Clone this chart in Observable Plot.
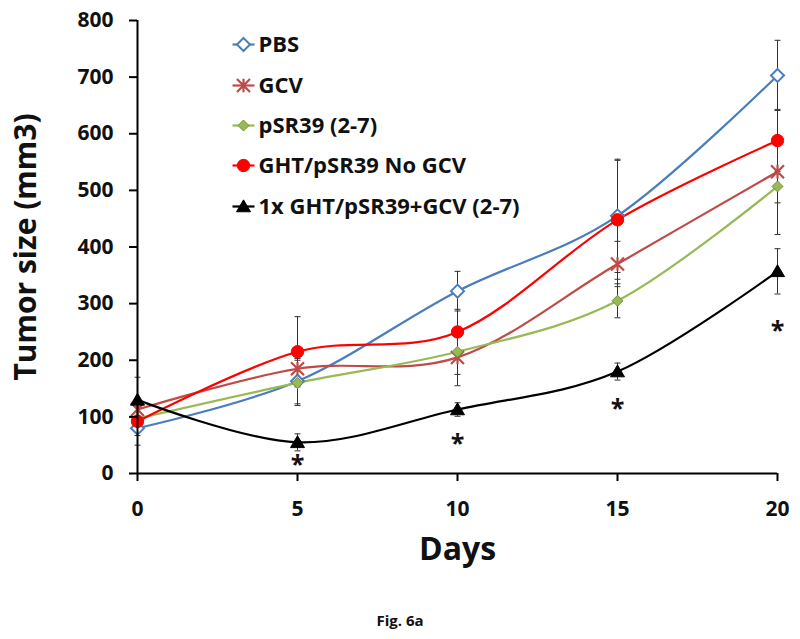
<!DOCTYPE html>
<html>
<head>
<meta charset="utf-8">
<script src="https://cdn.jsdelivr.net/npm/d3@7"></script>
<script src="https://cdn.jsdelivr.net/npm/@observablehq/plot@0.6"></script>
<style>
  body { margin: 0; background: #fff; font-family: "Open Sans", sans-serif; }
  #chart { width: 800px; height: 600px; }
  #caption { width: 800px; height: 39px; text-align: center; font: bold 15px "Open Sans", sans-serif; line-height: 40px; color: #111; }
</style>
</head>
<body>
<div id="chart"></div>
<div id="caption">Fig. 6a</div>
<script>
const days = [0, 5, 10, 15, 20];
const seriesNames = ["PBS", "GCV", "pSR39 (2-7)", "GHT/pSR39 No GCV", "1x GHT/pSR39+GCV (2-7)"];
const pbs   = [80, 163, 322, 455, 703];
const gcv   = [113, 185, 205, 370, 533];
const psr   = [97, 160, 215, 305, 507];
const ghtNo = [92, 215, 250, 448, 588];
const ghtG  = [130, 55, 113, 180, 357];
const pbsErr   = [30, 40, 35, 100, 62];
const gcvErr   = [20, 30, 50, 40, 55];
const psrErr   = [20, 40, 40, 30, 85];
const ghtNoErr = [25, 62, 40, 105, 55];
const ghtGErr  = [40, 15, 12, 15, 40];
const starDays = [5, 10, 15, 20];
const starVals = [25, 63, 125, 262];
const yTicks = [0, 100, 200, 300, 400, 500, 600, 700, 800];
const xTicks = [0, 5, 10, 15, 20];
const colors = ["#4A7EBB", "#BE4B48", "#98B954", "#FF0000", "#000000"];

const values = [pbs, gcv, psr, ghtNo, ghtG];
const errs = [pbsErr, gcvErr, psrErr, ghtNoErr, ghtGErr];

const rows = [];
seriesNames.forEach((s, i) => days.forEach((d, j) => rows.push({series: s, idx: i, day: d, v: values[i][j], e: errs[i][j]})));

const rad = size => Math.sqrt(size / Math.PI);
const hline = (len) => ({draw(ctx, size) { ctx.moveTo(-len / 2, 0); ctx.lineTo(len / 2, 0); }});
const sqDiamond = {draw(ctx, size) { const r = rad(size); ctx.moveTo(0, -r); ctx.lineTo(r, 0); ctx.lineTo(0, r); ctx.lineTo(-r, 0); ctx.closePath(); }};
const tri = {draw(ctx, size) { const r = rad(size); ctx.moveTo(0, -r * 0.95); ctx.lineTo(r, r * 0.75); ctx.lineTo(-r, r * 0.75); ctx.closePath(); }};
const gcvStar = {draw(ctx, size) {
  const r = rad(size);
  ctx.moveTo(-r, -r); ctx.lineTo(r, r);
  ctx.moveTo(-r, r); ctx.lineTo(r, -r);
  ctx.moveTo(0, -r * 1.05); ctx.lineTo(0, r * 1.05);
}};

const markerSpecs = [
  {symbol: sqDiamond, fill: "white", stroke: colors[0], strokeWidth: 2, r: 6.5},
  {symbol: gcvStar, fill: "none", stroke: colors[1], strokeWidth: 2.2, r: 6.5},
  {symbol: sqDiamond, fill: colors[2], stroke: "#76923C", strokeWidth: 1, r: 5.5},
  {symbol: "circle", fill: colors[3], stroke: colors[3], strokeWidth: 1, r: 6.2},
  {symbol: tri, fill: colors[4], stroke: colors[4], strokeWidth: 1, r: 7}
];

const marks = [];
// error bars
marks.push(Plot.ruleX(rows, {x: "day", y1: d => d.v - d.e, y2: d => d.v + d.e, stroke: "#333", strokeWidth: 1}));
marks.push(Plot.dot(rows, {x: "day", y: d => d.v - d.e, symbol: hline(6), stroke: "#333", strokeWidth: 1, r: 3}));
marks.push(Plot.dot(rows, {x: "day", y: d => d.v + d.e, symbol: hline(6), stroke: "#333", strokeWidth: 1, r: 3}));
// lines
const smooth = d3.curveCardinal.tension(0);
seriesNames.forEach((s, i) => {
  marks.push(Plot.line(rows.filter(d => d.idx === i), {x: "day", y: "v", stroke: colors[i], strokeWidth: 2.2, curve: smooth}));
});
// markers
seriesNames.forEach((s, i) => {
  const m = markerSpecs[i];
  marks.push(Plot.dot(rows.filter(d => d.idx === i), {x: "day", y: "v", symbol: m.symbol, fill: m.fill, stroke: m.stroke, strokeWidth: m.strokeWidth, r: m.r}));
});
// axes
marks.push(Plot.ruleX([0], {stroke: "black", strokeWidth: 2}));
marks.push(Plot.ruleY([0], {stroke: "black", strokeWidth: 2}));
marks.push(Plot.axisY(yTicks, {tickSize: 8, tickPadding: 16, fontSize: 21, fontWeight: "bold", stroke: "black", strokeWidth: 2, label: null, fill: "#111"}));
marks.push(Plot.axisX(xTicks, {tickSize: 8, tickPadding: 20, fontSize: 21, fontWeight: "bold", stroke: "black", strokeWidth: 2, label: null, fill: "#111"}));
// significance asterisks
marks.push(Plot.text(starDays, {x: d => d, y: (d, i) => starVals[i], text: () => "*", fontSize: 25, fontWeight: "bold", fill: "#111", dy: 6}));
// axis titles
marks.push(Plot.text(["Tumor size (mm3)"], {frameAnchor: "left", textAnchor: "middle", lineAnchor: "middle", rotate: -90, dx: -111, fontSize: 30, fontWeight: "bold", fill: "#111"}));
marks.push(Plot.text(["Days"], {frameAnchor: "bottom", textAnchor: "middle", lineAnchor: "middle", dy: 76, fontSize: 32, fontWeight: "bold", fill: "#111"}));
// legend
const rowDy = [24, 65, 105, 145, 186];
seriesNames.forEach((s, i) => {
  const m = markerSpecs[i];
  marks.push(Plot.dot([s], {frameAnchor: "top-left", dx: 106, dy: rowDy[i], symbol: hline(22), stroke: colors[i], strokeWidth: 2.2, r: 5}));
  marks.push(Plot.dot([s], {frameAnchor: "top-left", dx: 106, dy: rowDy[i], symbol: m.symbol, fill: m.fill, stroke: m.stroke, strokeWidth: m.strokeWidth, r: m.r}));
  marks.push(Plot.text([s], {frameAnchor: "top-left", dx: 121, dy: rowDy[i], text: d => d, textAnchor: "start", lineAnchor: "middle", fontSize: 22, fontWeight: "bold", fill: "#111"}));
});

const chart = Plot.plot({
  width: 800,
  height: 600,
  marginLeft: 137,
  marginRight: 23,
  marginTop: 20,
  marginBottom: 127,
  style: {fontFamily: "'Open Sans', sans-serif", background: "white", overflow: "visible"},
  x: {domain: [0, 20], axis: null},
  y: {domain: [0, 800], axis: null},
  marks
});
document.getElementById("chart").appendChild(chart);
</script>
</body>
</html>
